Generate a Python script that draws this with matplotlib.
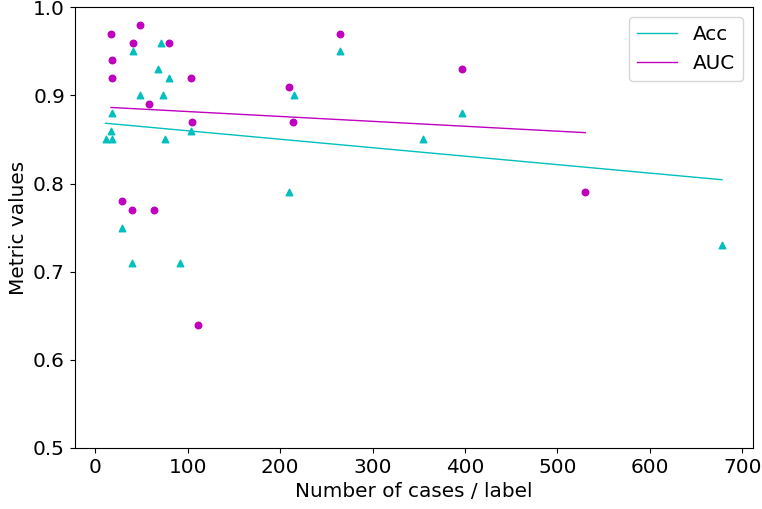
import numpy as np
import matplotlib
matplotlib.use('Agg')
import matplotlib.pyplot as plt

# Acc por estudio
acc_cases = [11, 17, 18, 18, 29, 40, 41, 48, 68, 71, 73, 75, 80, 92, 103, 210, 215, 265, 355, 397, 678]
acc_vals = [0.85, 0.86, 0.88, 0.85, 0.75, 0.71, 0.95, 0.90, 0.93, 0.96, 0.90, 0.85, 0.92, 0.71, 0.86,
            0.79, 0.90, 0.95, 0.85, 0.88, 0.73]

# AUC por estudio
auc_cases = [17, 18, 18, 29, 40, 41, 48, 58, 64, 80, 103, 105, 111, 210, 214, 265, 397, 530]
auc_vals = [0.97, 0.94, 0.92, 0.78, 0.77, 0.96, 0.98, 0.89, 0.77, 0.96, 0.92, 0.87, 0.64,
            0.91, 0.87, 0.97, 0.93, 0.79]

plt.rcParams['font.size'] = 14.4

fig, ax = plt.subplots(figsize=(7.62, 5.09), dpi=100)
fig.subplots_adjust(left=0.098, right=0.988, bottom=0.12, top=0.9857)

# Puntos
ax.scatter(acc_cases, acc_vals, color='c', marker='^', s=22)
ax.scatter(auc_cases, auc_vals, color='m', marker='o', s=22)

# Rectas de regresión
for xs, ys, col, lab in [(acc_cases, acc_vals, 'c', 'Acc'), (auc_cases, auc_vals, 'm', 'AUC')]:
    xs = np.array(xs)
    k, b = np.polyfit(xs, ys, 1)
    xl = np.array([xs.min(), xs.max()])
    ax.plot(xl, k * xl + b, color=col, lw=1, label=lab)

ax.set_ylim(0.5, 1.0)
ax.set_xlabel('Number of cases / label')
ax.set_ylabel('Metric values')
ax.legend(loc='upper right')

plt.savefig('out.png')
